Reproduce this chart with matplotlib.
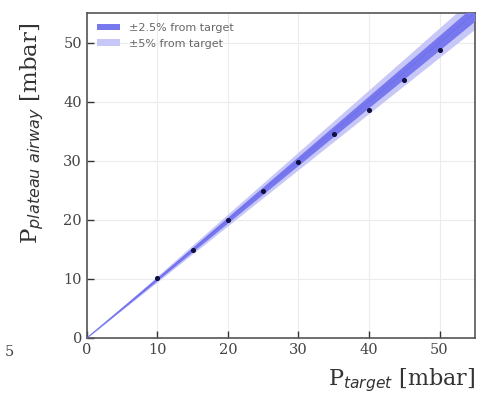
import numpy as np
import matplotlib
matplotlib.use("Agg")
import matplotlib.pyplot as plt

# Data
p_target = [10, 15, 20, 25, 30, 35, 40, 45, 50]
p_plateau = [10.2, 14.9, 20.0, 24.9, 29.8, 34.6, 38.6, 43.6, 48.7]
band_x = [0, 55]
ticks = [0, 10, 20, 30, 40, 50]

plt.rcParams['font.family'] = ['DejaVu Serif']
plt.rcParams['mathtext.fontset'] = 'dejavusans'

fig = plt.figure(figsize=(4.83, 3.93), dpi=100)
ax = fig.add_axes([0.180, 0.140, 0.803, 0.827])

bx = np.array(band_x, dtype=float)
ax.fill_between(bx, bx * 0.95, bx * 1.05, color='#c8c8f8', lw=0, label='±5% from target', zorder=2)
ax.fill_between(bx, bx * 0.975, bx * 1.025, color='#7878ee', lw=0, label='±2.5% from target', zorder=3)
ax.plot(bx, bx, color='#7070ee', lw=0.8, zorder=3)
ax.scatter(p_target, p_plateau, s=7, color='#101040', zorder=5)

ax.set_xlim(0, 55)
ax.set_ylim(0, 55)
ax.set_xticks(ticks)
ax.set_yticks(ticks)
ax.grid(True, color='#ececec', lw=0.8, zorder=0)
ax.set_axisbelow(True)
ax.tick_params(direction='in', length=5, width=1, colors='#333333', labelsize=10.5, labelcolor='#444444')
for s in ax.spines.values():
    s.set_color('#555555')
    s.set_linewidth(1.2)

h, l = ax.get_legend_handles_labels()
ax.legend(h[::-1], l[::-1], loc='upper left', frameon=False,
          prop={'family': 'DejaVu Sans', 'size': 8}, labelcolor='#666666',
          handlelength=2.1, handleheight=0.5, handletextpad=0.8, labelspacing=0.5,
          borderaxespad=0.5)

ax.set_ylabel(r'P$_{plateau\ airway}$ [mbar]', fontsize=16.5, color='#333333')
ax.yaxis.set_label_coords(-0.105, 0.63)
ax.set_xlabel(r'P$_{target}$ [mbar]', fontsize=16, color='#333333', loc='right', labelpad=7)

fig.text(9 / 483, 1 - 352 / 393, '5', fontsize=10.5, color='#444444', ha='center', va='center')

fig.savefig('out.png', dpi=100)
